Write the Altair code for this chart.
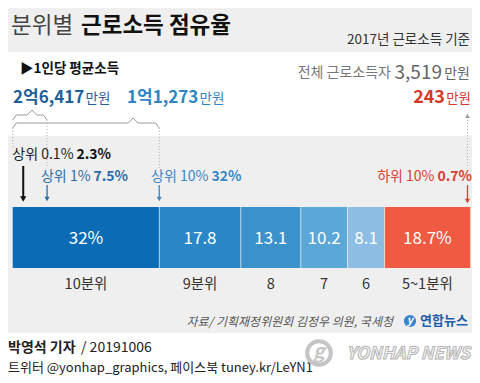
import altair as alt
import pandas as pd

# ---------------- data ----------------
deciles = ["10분위", "9분위", "8", "7", "6", "5~1분위"]
shares = [32.0, 17.8, 13.1, 10.2, 8.1, 18.7]
share_labels = ["32%", "17.8", "13.1", "10.2", "8.1", "18.7%"]
decile_colors = ["#0b6cb5", "#2a86c6", "#3b91ca", "#5ba7d8", "#8dbde3", "#ef5a42"]

marker_groups = ["상위 0.1%", "상위 1%", "상위 10%", "하위 10%"]
marker_shares = [2.3, 7.5, 32.0, 0.7]
marker_from_top = [True, True, True, False]
marker_colors = ["#111111", "#2b6ca8", "#3987c5", "#d9402f"]

income_labels = ["2억6,417", "1억1,273", "243"]
total_income = "3,519"

FONT = "Noto Sans CJK KR"
W, H = 464, 367

# ---------------- tables ----------------
starts, ends = [], []
acc = 0.0
for s in shares:
    starts.append(acc)
    acc += s
    ends.append(acc)
bars = pd.DataFrame({
    "decile": deciles, "share": shares, "label": share_labels,
    "start": starts, "end": ends,
})
bars["mid"] = (bars["start"] + bars["end"]) / 2

marker_pos = [s if top else 100 - s for s, top in zip(marker_shares, marker_from_top)]

X = alt.Scale(domain=[0, 100], range=[4.7, 462.7], nice=False, zero=False)
Y = alt.Scale(domain=[0, H], range=[0, H], nice=False, zero=False)
dummy = alt.Data(values=[{}])


def txt(text, x, y, size, color="#222222", weight="normal", align="left", **kw):
    return alt.Chart(dummy).mark_text(
        text=text, align=align, baseline="middle", fontSize=size, font=FONT,
        fontWeight=weight, color=color, **kw
    ).encode(x=alt.value(x), y=alt.value(y))


layers = []

# background panels
layers.append(alt.Chart(dummy).mark_rect(color="white", cornerRadius=6).encode(
    x=alt.value(-3), x2=alt.value(467), y=alt.value(44), y2=alt.value(128)))
layers.append(alt.Chart(dummy).mark_rect(color="white").encode(
    x=alt.value(-10), x2=alt.value(480), y=alt.value(325), y2=alt.value(380)))

# titles
layers.append(txt("분위별", 3, 18, 22.5, color="#444444"))
layers.append(txt("근로소득 점유율", 73, 18, 22.5, color="#111111", weight="bold"))
layers.append(txt("2017년 근로소득 기준", 462, 32, 13.5, color="#333333", align="right"))

# income box
layers.append(txt("▶1인당 평균소득", 12, 61, 13.5, color="#111111", weight="bold"))
layers.append(txt("만원", 462, 66, 14, color="#666666", align="right"))
layers.append(txt(total_income, 434, 65, 19, color="#666666", align="right"))
layers.append(txt("전체 근로소득자", 383, 65, 14, color="#777777", align="right"))

layers.append(txt(income_labels[0], 5, 90, 17, color="#1f5f9e", weight="bold"))
layers.append(txt("만원", 77.5, 91, 13.5, color="#1f5f9e"))
layers.append(txt(income_labels[1], 119, 90, 17, color="#2f84c5", weight="bold"))
layers.append(txt("만원", 191.5, 91, 13.5, color="#2f84c5"))
layers.append(txt(income_labels[2], 437, 90, 18, color="#d6362b", weight="bold", align="right"))
layers.append(txt("만원", 463, 91, 13.5, color="#d6362b", align="right"))

# brackets (curly braces) drawn as polylines in share units
def brace(x0, x1, peak, yb, bid):
    c = 0.8
    pts = [(x0, yb + 5), (x0 + c, yb), (peak - c * 1.3, yb), (peak, yb - 5),
           (peak + c * 1.3, yb), (x1 - c, yb), (x1, yb + 5)]
    return pd.DataFrame({"x": [p[0] for p in pts], "y": [p[1] for p in pts],
                         "o": list(range(len(pts))), "b": bid})

brace_df = pd.concat([
    brace(0, marker_shares[1], 4.2, 107, "a"),
    brace(0, marker_shares[2], 26.3, 115, "b"),
])
layers.append(alt.Chart(brace_df).mark_line(color="#9a9a9a", strokeWidth=1).encode(
    x=alt.X("x:Q", scale=X, axis=None), y=alt.Y("y:Q", scale=Y, axis=None),
    order="o:Q", detail="b:N"))

# dotted guide lines
guides = pd.DataFrame({"x": [0, marker_pos[1], marker_pos[2], marker_pos[3]],
                       "y1": [120, 112, 120, 106], "y2": [140, 160, 160, 160]})
layers.append(alt.Chart(guides).mark_rule(color="#b0b0b0", strokeWidth=1, strokeDash=[1, 2]).encode(
    x=alt.X("x:Q", scale=X, axis=None), y=alt.Y("y1:Q", scale=Y, axis=None), y2="y2:Q"))
layers.append(alt.Chart(pd.DataFrame({"x": [marker_pos[3]]})).mark_point(
    shape="triangle-up", filled=True, size=22, color="#999999", opacity=1).encode(
    x=alt.X("x:Q", scale=X, axis=None), y=alt.value(108)))

# bar
layers.append(alt.Chart(bars).mark_rect().encode(
    x=alt.X("start:Q", scale=X, axis=None), x2="end:Q",
    y=alt.value(199), y2=alt.value(260),
    color=alt.Color("decile:N", scale=alt.Scale(domain=deciles, range=decile_colors), legend=None)))
layers.append(alt.Chart(bars.iloc[:-1]).mark_rule(color="white", strokeWidth=1, opacity=0.6).encode(
    x=alt.X("end:Q", scale=X, axis=None), y=alt.value(199), y2=alt.value(260)))
layers.append(alt.Chart(bars).mark_text(color="white", fontSize=17, font=FONT, baseline="middle").encode(
    x=alt.X("mid:Q", scale=X, axis=None), y=alt.value(231), text="label:N"))
layers.append(alt.Chart(bars).mark_text(color="#333333", fontSize=14.5, font=FONT, baseline="middle").encode(
    x=alt.X("mid:Q", scale=X, axis=None), y=alt.value(277), text="decile:N"))

# markers (arrows + labels)
marker_layout = [
    # text_y, arrow_top, arrow_bottom, split_dx, width, head_size
    (147, 158, 193, 50.3, 2.0, 40),
    (169, 177, 193, 43.5, 1.3, 26),
    (169, 177, 193, 49.2, 1.3, 26),
    (169, 177, 195, -33.0, 1.3, 26),
]
for i, (grp, val, pos, col) in enumerate(zip(marker_groups, marker_shares, marker_pos, marker_colors)):
    ty, ya, yb, sdx, sw, hs = marker_layout[i]
    d = pd.DataFrame({"pos": [pos], "grp": [grp], "val": [f"{val:g}%"]})
    base = alt.Chart(d)
    layers.append(base.mark_rule(color=col, strokeWidth=sw).encode(
        x=alt.X("pos:Q", scale=X, axis=None), y=alt.value(ya), y2=alt.value(yb - 3)))
    layers.append(base.mark_point(shape="triangle-down", filled=True, size=hs, color=col, opacity=1).encode(
        x=alt.X("pos:Q", scale=X, axis=None), y=alt.value(yb - 2)))
    pref_col = "#222222" if i == 0 else col
    layers.append(base.mark_text(align="right", baseline="middle", dx=sdx, fontSize=14, font=FONT,
                                 color=pref_col).encode(
        x=alt.X("pos:Q", scale=X, axis=None), y=alt.value(ty), text="grp:N"))
    layers.append(base.mark_text(align="left", baseline="middle", dx=sdx + 3, fontSize=14, font=FONT,
                                 fontWeight="bold", color=col).encode(
        x=alt.X("pos:Q", scale=X, axis=None), y=alt.value(ty), text="val:N"))

# source and logo
layers.append(txt("자료/ 기획재정위원회 김정우 의원, 국세청", 385, 314, 12, color="#555555",
                  align="right", fontStyle="italic"))
layers.append(alt.Chart(dummy).mark_point(shape="circle", filled=True, size=150, color="#3b82d0", opacity=1).encode(
    x=alt.value(402), y=alt.value(313)))
layers.append(txt("y", 402, 313, 11, color="white", weight="bold", align="center", fontStyle="italic"))
layers.append(txt("연합뉴스", 412, 313, 13, color="#1d5fa8", weight="bold"))

# credits
layers.append(txt("박영석 기자", 0, 340, 14, color="#222222", weight="bold"))
layers.append(txt("/ 20191006", 73, 340, 14, color="#222222"))
layers.append(txt("트위터 @yonhap_graphics, 페이스북 tuney.kr/LeYN1", 0, 360, 13, color="#222222"))

# watermark
layers.append(alt.Chart(dummy).mark_point(shape="circle", filled=False, size=560, color="#c4c4c4",
                                          strokeWidth=4, opacity=1).encode(
    x=alt.value(311), y=alt.value(345)))
layers.append(txt("g", 311, 344, 19, color="#c4c4c4", weight="bold", align="center", fontStyle="italic"))
layers.append(txt("YONHAP NEWS", 462, 346, 17, color="#f4f4f4", weight="bold", align="right",
                  fontStyle="italic", stroke="#b5b5b5", strokeWidth=1))

chart = alt.layer(*layers).properties(
    width=W, height=H, autosize="none", padding=0, background="#efefef"
).configure_view(stroke=None)

chart.save("out.html", embed_options={"renderer": "svg", "actions": False})
